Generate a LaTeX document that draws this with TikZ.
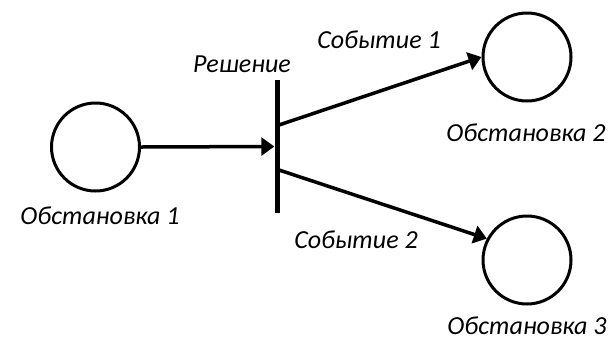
\documentclass[tikz,border=0pt]{standalone}
\usepackage{fontspec}
\setmainfont{Carlito}
\usetikzlibrary{arrows.meta}

\tikzset{
  state/.style={circle, draw, line width=3pt, minimum size=88pt, inner sep=0pt},
  decision/.style={fill, minimum width=5pt, minimum height=133pt, inner sep=0pt},
  arc/.style={line width=3.5pt, -{Triangle[length=13pt,width=18pt]}},
  lbl/.style={font=\fontsize{26}{30}\selectfont\itshape}
}

\begin{document}
\begin{tikzpicture}[x=1pt, y=-1pt]
        \useasboundingbox (0,0) rectangle (612,341);
        \node[state] (s1) at (95.5,147) {};
        \node[state] (s2) at (527,57) {};
        \node[state] (s3) at (527,260) {};
        \node[decision] (d) at (277,146.5) {};
        \coordinate (e1) at (279,125);
        \coordinate (e2) at (279,170);
        \draw[arc] (s1.east) -- (d.west);
        \draw[arc] (e1) -- (s2.west);
        \draw[arc] (e2) -- (s3.152);
        \node[lbl] (ls1) at (100,216) {Обстановка 1};
        \node[lbl] (ls2) at (526,133) {Обстановка 2};
        \node[lbl] (ls3) at (527,326) {Обстановка 3};
        \node[lbl] (ld) at (242,64) {Решение};
        \node[lbl] (le1) at (379,40) {Событие 1};
        \node[lbl] (le2) at (356,240) {Событие 2};
    \end{tikzpicture}
\end{document}
